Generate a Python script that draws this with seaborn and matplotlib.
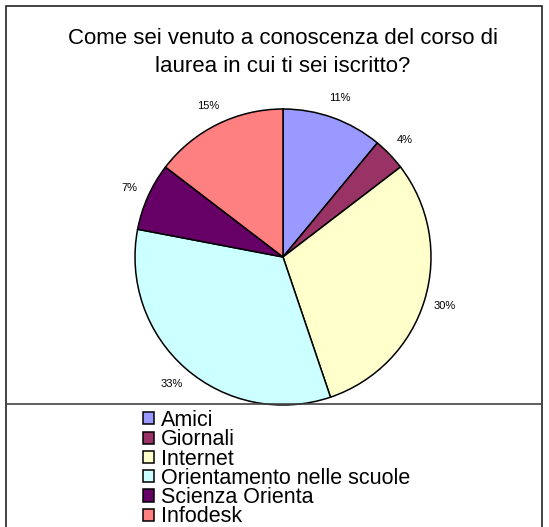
import matplotlib
matplotlib.use("Agg")
import matplotlib.pyplot as plt
import seaborn as sns
from matplotlib.patches import Rectangle
from matplotlib.lines import Line2D

# ==========================================
# Dati (percentuali)
# ==========================================
categorie = ["Amici", "Giornali", "Internet", "Orientamento nelle scuole",
             "Scienza Orienta", "Infodesk"]
percentuali = [11.0, 3.6, 30.2, 33.2, 7.4, 14.6]
colori = ["#9999FF", "#993366", "#FFFFCC", "#CCFFFF", "#660066", "#FF8080"]
titolo = "Come sei venuto a conoscenza del corso di\nlaurea in cui ti sei iscritto?"

sns.set_theme(style="white")
plt.rcParams["font.family"] = ["Liberation Sans", "DejaVu Sans"]
plt.rcParams["text.color"] = "black"

W, H = 549, 527
fig = plt.figure(figsize=(W / 100, H / 100), dpi=100)
fig.patch.set_facecolor("white")

# Cornice esterna e riquadro della legenda
fig.patches.append(Rectangle((6 / W, -0.02), (542 - 6) / W, (H - 6) / H + 0.02,
                             transform=fig.transFigure, fill=False,
                             edgecolor="#222222", linewidth=1.2))
fig.add_artist(Line2D([6 / W, 542 / W], [(H - 404) / H] * 2,
                      transform=fig.transFigure, color="#444444", linewidth=1.2))

# Torta
cx, cy, r = 283, 257, 148
ax = fig.add_axes([(cx - r) / W, (H - cy - r) / H, 2 * r / W, 2 * r / H])
wedges, _, autotexts = ax.pie(
    percentuali, colors=colori, startangle=90, counterclock=False,
    autopct="%1.0f%%", pctdistance=1.14,
    wedgeprops=dict(edgecolor="black", linewidth=1.1),
    textprops=dict(fontsize=8, color="black"))
ax.set_xlim(-1, 1)
ax.set_ylim(-1, 1)
ax.set_aspect("equal")
ax.axis("off")

# Titolo
fig.text(cx / W, (H - 28) / H, titolo, ha="center", va="top",
         fontsize=16, linespacing=1.45)

# Legenda
fig.legend(wedges, categorie, loc="upper left",
           bbox_to_anchor=(143 / W, (H - 410) / H), frameon=False,
           fontsize=15.5, handlelength=0.5, handleheight=0.5,
           handletextpad=0.35, labelspacing=-0.08, borderpad=0,
           borderaxespad=0)

plt.savefig("out.png", dpi=100)
